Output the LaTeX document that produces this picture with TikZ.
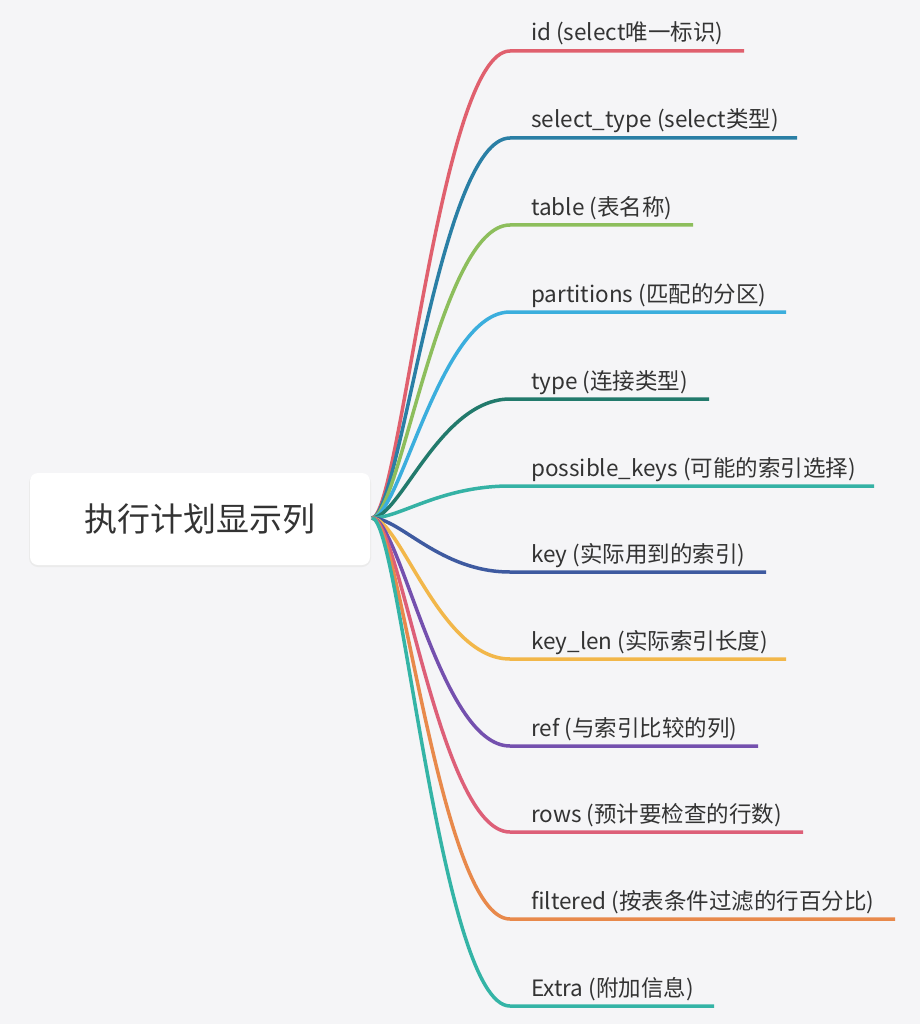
\documentclass[tikz,border=0pt]{standalone}
\usepackage{fontspec}
\setmainfont{Noto Sans CJK SC}
\usetikzlibrary{calc}
\definecolor{bg}{HTML}{F5F5F7}
\definecolor{txt}{HTML}{333333}
\definecolor{c1}{HTML}{E0606E}
\definecolor{c2}{HTML}{2A7FA5}
\definecolor{c3}{HTML}{8DBE5C}
\definecolor{c4}{HTML}{3BAEDD}
\definecolor{c5}{HTML}{227A6C}
\definecolor{c6}{HTML}{35B2A5}
\definecolor{c7}{HTML}{3E5AA0}
\definecolor{c8}{HTML}{F2B74A}
\definecolor{c9}{HTML}{7450AE}
\definecolor{c10}{HTML}{DD5F78}
\definecolor{c11}{HTML}{E8894B}
\definecolor{c12}{HTML}{34B4A6}
\tikzset{
  rootbox/.style={fill=white, rounded corners=8pt, minimum width=340pt, minimum height=92pt,
    inner sep=0pt, text=txt, font=\fontsize{33}{40}\selectfont},
  leaflabel/.style={anchor=base west, inner sep=0pt, text=txt, font=\fontsize{22.5}{26}\selectfont},
  branch/.style={line width=3.5pt}
}
\begin{document}
\begin{tikzpicture}[x=1pt,y=-1pt]
\useasboundingbox (0,0) rectangle (920,1024);
\fill[bg] (0,0) rectangle (920,1024);
\fill[black!8, rounded corners=9pt] (29,474) rectangle (371,567);
\node[rootbox] (root) at (200,519) {执行计划显示列};
\coordinate (hub) at (372,518);
\foreach \i/\y/\ex/\lab in {
  1/51/744/{id (select唯一标识)},
  2/138/797/{select\_type (select类型)},
  3/225/693/{table (表名称)},
  4/312/786/{partitions (匹配的分区)},
  5/399/709/{type (连接类型)},
  6/486/874/{possible\_keys (可能的索引选择)},
  7/572/766/{key (实际用到的索引)},
  8/659/786/{key\_len (实际索引长度)},
  9/746/758/{ref (与索引比较的列)},
  10/832/803/{rows (预计要检查的行数)},
  11/919/895/{filtered (按表条件过滤的行百分比)},
  12/1006/714/{Extra (附加信息)}}{
  \coordinate (s\i) at (510,\y);
  \coordinate (e\i) at (\ex,\y);
  \node[leaflabel] (l\i) at (531,\y-10) {\lab};
  \draw[branch, c\i] (hub) .. controls ($(hub)+(28,0)$) and ($(s\i)+(-70,0)$) .. (s\i) -- (e\i);
}
\end{tikzpicture}
\end{document}
